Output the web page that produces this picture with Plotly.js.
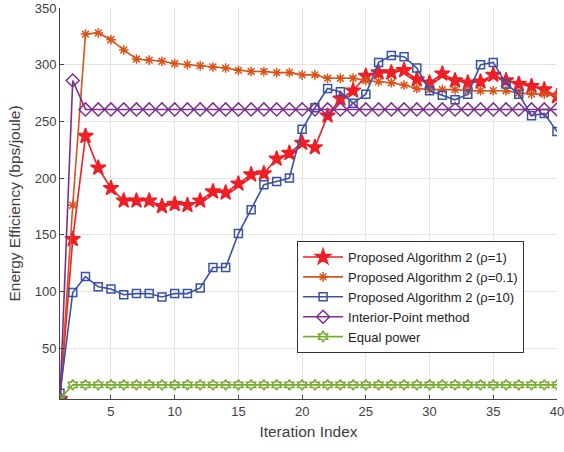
<!DOCTYPE html>
<html>
<head>
<meta charset="utf-8">
<script src="https://cdn.plot.ly/plotly-3.0.1.min.js"></script>
<style>html,body{margin:0;padding:0;background:#fff;}#chart{width:564px;height:452px;}</style>
</head>
<body>
<div id="chart"></div>
<script>
const iterations = Array.from({length: 40}, (_, i) => i + 1);

const seriesNames = [
  "Proposed Algorithm 2 (ρ=1)",
  "Proposed Algorithm 2 (ρ=0.1)",
  "Proposed Algorithm 2 (ρ=10)",
  "Interior-Point method",
  "Equal power"
];

const rho1 = [5, 146, 237, 209, 191, 180, 180, 180, 175, 177, 176, 180, 188, 187, 195, 203, 204, 217, 222, 231,
              227, 255, 270, 277, 290, 293, 293, 295, 287, 284, 292, 286, 284, 285, 291, 286, 283, 281, 278, 272];
const rho01 = [5, 176, 327, 328, 322, 313, 305, 304, 303, 301, 300, 299, 298, 297, 295, 294, 294, 293, 293, 291,
               291, 288, 288, 288, 286, 285, 284, 282, 279, 278, 278, 278, 277, 277, 277, 277, 275, 274, 274, 273];
const rho10 = [10, 99, 113, 104, 102, 97, 98, 98, 95, 98, 98, 103, 121, 121, 151, 172, 194, 197, 200, 243,
               262, 279, 276, 266, 274, 302, 308, 307, 297, 277, 273, 269, 274, 300, 302, 283, 274, 255, 257, 241];
const interiorPoint = [5, 286, 260.5, 260.5, 260.5, 260.5, 260.5, 260.5, 260.5, 260.5, 260.5, 260.5, 260.5, 260.5,
                       260.5, 260.5, 260.5, 260.5, 260.5, 260.5, 260.5, 260.5, 260.5, 260.5, 260.5, 260.5, 260.5,
                       260.5, 260.5, 260.5, 260.5, 260.5, 260.5, 260.5, 260.5, 260.5, 260.5, 260.5, 260.5, 260.5];
const equalPower = [5, 17.5, 17.5, 17.5, 17.5, 17.5, 17.5, 17.5, 17.5, 17.5, 17.5, 17.5, 17.5, 17.5, 17.5, 17.5, 17.5, 17.5, 17.5, 17.5,
                    17.5, 17.5, 17.5, 17.5, 17.5, 17.5, 17.5, 17.5, 17.5, 17.5, 17.5, 17.5, 17.5, 17.5, 17.5, 17.5, 17.5, 17.5, 17.5, 17.5];

const xTicks = [5, 10, 15, 20, 25, 30, 35, 40];
const yTicks = [50, 100, 150, 200, 250, 300, 350];

function trace(y, name, color, symbol, size) {
  return {
    x: iterations, y: y, name: name, type: 'scatter', mode: 'lines+markers',
    line: {color: color, width: 1.6},
    marker: {symbol: symbol, size: size, color: color, line: {color: color, width: 1.5}}
  };
}

const data = [
  trace(rho1, seriesNames[0], '#EE1F26', 'star', 11.5),
  trace(rho01, seriesNames[1], '#D95319', 'asterisk-open', 8),
  trace(rho10, seriesNames[2], '#3A52A3', 'square-open', 8),
  trace(interiorPoint, seriesNames[3], '#7E2F8E', 'diamond-open', 10),
  trace(equalPower, seriesNames[4], '#77AC30', 'hexagram-open', 8)
];

const axisFont = {family: 'Liberation Sans, Arial, sans-serif', size: 13, color: '#404040'};

const layout = {
  width: 564, height: 452,
  margin: {l: 60, r: 7, t: 8, b: 53},
  paper_bgcolor: '#fff', plot_bgcolor: '#fff',
  showlegend: true,
  font: axisFont,
  xaxis: {
    range: [1, 40], tickvals: xTicks, ticktext: xTicks.map(String),
    showgrid: true, gridcolor: '#e5e5e5', gridwidth: 1,
    zeroline: false, showline: true, linecolor: '#444', linewidth: 1,
    ticks: 'inside', ticklen: 4, tickcolor: '#444',
    tickfont: axisFont, ticklabeloverflow: 'allow',
    title: {text: 'Iteration Index', font: {family: 'Liberation Sans, Arial, sans-serif', size: 15.5, color: '#404040'}, standoff: 8}
  },
  yaxis: {
    range: [5, 350], tickvals: yTicks, ticktext: yTicks.map(String),
    showgrid: true, gridcolor: '#e5e5e5', gridwidth: 1,
    zeroline: false, showline: true, linecolor: '#444', linewidth: 1,
    ticks: 'inside', ticklen: 4, tickcolor: '#444',
    tickfont: axisFont,
    title: {text: 'Energy Efficiency (bps/joule)', font: {family: 'Liberation Sans, Arial, sans-serif', size: 15.5, color: '#404040'}, standoff: 10}
  },
  legend: {
    x: 0.477, y: 0.404, xanchor: 'left', yanchor: 'top',
    bgcolor: '#fff', bordercolor: '#333', borderwidth: 1,
    font: {family: 'Liberation Sans, Arial, sans-serif', size: 13, color: '#222'},
    tracegroupgap: 0, itemwidth: 40
  }
};

Plotly.newPlot('chart', data, layout, {displayModeBar: false, staticPlot: true});
</script>
</body>
</html>
